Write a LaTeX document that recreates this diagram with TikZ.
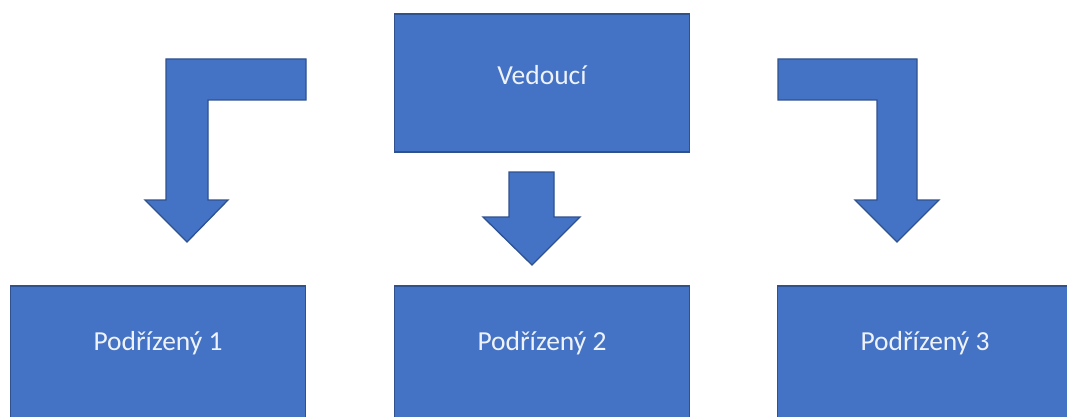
\documentclass[tikz,border=0pt]{standalone}
\usepackage{fontspec}
\setmainfont{Carlito}
\usepackage{tikz}
\usetikzlibrary{positioning}
\usepackage{xcolor}
\definecolor{boxblue}{HTML}{4472C4}
\definecolor{edgeblue}{HTML}{2F528F}
\definecolor{textwhite}{HTML}{EEF3FA}

\begin{document}
\begin{tikzpicture}[x=1pt,y=-1pt]
\tikzstyle{B}=[draw=edgeblue,fill=boxblue,line width=1.3pt,
minimum width=295pt,minimum height=138pt,align=center,
text=textwhite,font=\fontsize{27.5}{32}\selectfont,text depth=16pt]
\tikzstyle{A}=[draw=edgeblue,fill=boxblue,line width=1.3pt,line join=miter]
\useasboundingbox (0,0) rectangle (1067,417);
\clip (0,0) rectangle (1067,417);
% boxes
\node[B](v) at (542,83){Vedoucí};
\node[B,text depth=28pt](p1) at (158,355){Podřízený 1};
\node[B,text depth=28pt](p2) at (542,355){Podřízený 2};
\node[B,text depth=28pt](p3) at (925,355){Podřízený 3};
% arrows
\draw[A] (306,59)--(166,59)--(166,200)--(145,200)--(187,242)--(228,200)
  --(208,200)--(208,100)--(306,100)--cycle;
\draw[A] (509,172)--(554,172)--(554,217)--(580,217)--(532,265)--(483,217)
  --(509,217)--cycle;
\draw[A] (778,59)--(917,59)--(917,200)--(939,200)--(897,242)--(855,200)
  --(877,200)--(877,100)--(778,100)--cycle;
\end{tikzpicture}
\end{document}
